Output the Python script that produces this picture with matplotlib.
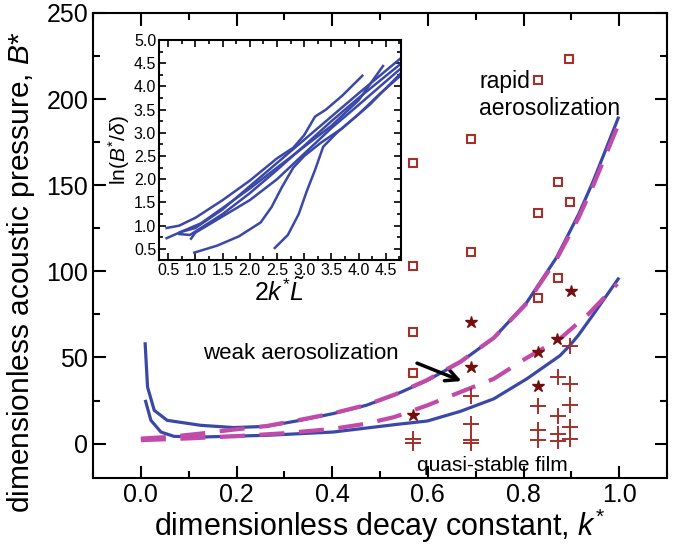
import numpy as np
import matplotlib
matplotlib.use("Agg")
import matplotlib.pyplot as plt
from matplotlib.ticker import MultipleLocator

plt.rcParams['font.family'] = ['Liberation Sans', 'DejaVu Sans']
plt.rcParams['mathtext.fontset'] = 'custom'
plt.rcParams['mathtext.rm'] = 'Liberation Sans'
plt.rcParams['mathtext.it'] = 'Liberation Sans:italic'

# main curves (k*, B*)
k_up = [0.009, 0.014, 0.028, 0.055, 0.125, 0.194, 0.263, 0.333, 0.402, 0.471, 0.533,
        0.599, 0.668, 0.738, 0.807, 0.869, 0.915, 0.946, 0.998]
B_up = [57.9, 32.8, 19.3, 13.5, 10.6, 9.3, 10.0, 13.5, 17.4, 22.2, 28.5,
        36.7, 47.3, 61.4, 82.0, 108.0, 133.0, 152.5, 189.0]
k_lo = [0.010, 0.021, 0.042, 0.069, 0.125, 0.263, 0.402, 0.537, 0.599, 0.668,
        0.738, 0.807, 0.876, 0.897, 0.915, 0.946, 0.998]
B_lo = [24.5, 13.5, 6.7, 4.2, 3.8, 4.8, 6.7, 11.2, 13.1, 18.7,
        26.0, 37.6, 51.0, 57.0, 63.0, 75.0, 95.6]
k_up_d = [0.0, 0.055, 0.125, 0.194, 0.263, 0.333, 0.402, 0.471, 0.533, 0.599, 0.668,
          0.738, 0.807, 0.869, 0.915, 0.946, 0.995]
B_up_d = [2.9, 3.8, 5.8, 8.1, 10.2, 13.8, 17.6, 22.4, 28.7, 37.0, 47.5,
          61.4, 81.5, 107.0, 131.0, 150.0, 183.0]
k_lo_d = [0.0, 0.1, 0.2, 0.3, 0.4, 0.47, 0.53, 0.599, 0.668, 0.738, 0.807, 0.876, 0.936, 0.996]
B_lo_d = [2.0, 3.0, 4.3, 6.0, 8.5, 11.5, 15.4, 22.2, 29.9, 37.6, 49.8, 60.8, 75.3, 92.7]

# experimental points
sq_k = [0.896, 0.830, 0.691, 0.570, 0.872, 0.897, 0.830, 0.691, 0.570, 0.570, 0.570, 0.872, 0.830]
sq_B = [223, 211, 176.6, 162.8, 151.9, 140.5, 133.6, 111.0, 103.3, 65.0, 40.9, 96.1, 84.3]
st_k = [0.899, 0.691, 0.691, 0.871, 0.830, 0.830, 0.570]
st_B = [88.4, 70.4, 44.6, 60.6, 53.1, 33.4, 16.4]
pl_k = [0.570, 0.570, 0.691, 0.691, 0.691, 0.691, 0.830, 0.830, 0.830,
        0.872, 0.872, 0.872, 0.872, 0.897, 0.897, 0.897, 0.897, 0.897]
pl_B = [2.9, 0.4, 27.6, 11.6, 2.3, 0.4, 21.6, 7.7, 2.0,
        38.6, 16.0, 5.8, 1.5, 56.5, 34.7, 22.2, 9.6, 2.9]

# inset curves (2k*L, ln(B*/delta))
inset_curves = [
    ([0.47, 0.7, 1.0, 1.5, 2.0, 2.5, 2.8, 3.0, 3.2, 3.4, 3.7, 4.07],
     [0.95, 1.0, 1.17, 1.55, 1.97, 2.45, 2.68, 2.95, 3.35, 3.5, 3.8, 4.23]),
    ([0.47, 0.8, 1.1, 1.5, 2.0, 2.5, 3.0, 3.5, 4.0, 4.45],
     [0.73, 0.9, 1.05, 1.38, 1.8, 2.25, 2.7, 3.15, 3.7, 4.44]),
    ([0.72, 1.0, 1.5, 2.0, 2.5, 3.0, 3.5, 4.0, 4.79],
     [0.86, 0.95, 1.35, 1.85, 2.35, 2.85, 3.35, 3.85, 4.62]),
    ([0.7, 0.9, 1.1, 1.5, 2.0, 2.5, 3.0, 3.5, 4.0, 4.79],
     [0.82, 0.8, 0.95, 1.25, 1.7, 2.2, 2.72, 3.25, 3.75, 4.5]),
    ([0.92, 1.0, 1.5, 2.0, 2.5, 3.0, 3.5, 4.0, 4.79],
     [0.72, 0.85, 1.2, 1.55, 2.0, 2.55, 3.1, 3.6, 4.4]),
    ([0.98, 1.4, 1.8, 2.2, 2.4, 2.6, 2.8, 3.0, 3.3, 3.7, 4.2, 4.79],
     [0.42, 0.57, 0.77, 1.07, 1.4, 1.85, 2.25, 2.5, 2.78, 3.1, 3.6, 4.3]),
    ([2.46, 2.7, 2.9, 3.05, 3.2, 3.35, 3.6, 4.0, 4.4, 4.79],
     [0.52, 0.8, 1.25, 1.75, 2.2, 2.7, 3.0, 3.4, 3.85, 4.25]),
]

blue = '#3a48a8'
mag = '#c24aa8'
red = '#a3302a'
dark = '#740d0d'

fig = plt.figure(figsize=(6.82, 5.48), dpi=100)
ax = fig.add_axes([0.1364, 0.1277, 0.8416, 0.8486])

ax.plot(k_up, B_up, color=blue, lw=2.3, zorder=3)
ax.plot(k_lo, B_lo, color=blue, lw=2.3, zorder=3)
ax.plot(k_up_d, B_up_d, color=mag, lw=3, dashes=(6, 3.5), zorder=4)
ax.plot(k_lo_d, B_lo_d, color=mag, lw=3, dashes=(6, 3.5), zorder=4)

ax.plot(sq_k, sq_B, 's', ms=5.5, mfc='white', mec=red, mew=1.5, ls='none', zorder=5)
ax.plot(st_k, st_B, '*', ms=9, color=dark, ls='none', zorder=5)
ax.plot(pl_k, pl_B, '+', ms=11, mew=1.4, color=red, ls='none', zorder=5)

ax.annotate('', xy=(0.676, 35.7), xytext=(0.572, 47.3),
            arrowprops=dict(arrowstyle='->', color='black', lw=2.5, mutation_scale=22))
ax.text(0.131, 52.3, 'weak aerosolization', fontsize=16, va='center', ha='left')
ax.text(0.707, 217, 'rapid\naerosolization', fontsize=16.5, va='top', ha='left', linespacing=1.25)
ax.text(0.578, -12.5, 'quasi-stable film', fontsize=15, va='center', ha='left')

ax.set_xlim(-0.1, 1.1)
ax.set_ylim(-20, 250)
ax.xaxis.set_major_locator(MultipleLocator(0.2))
ax.xaxis.set_minor_locator(MultipleLocator(0.1))
ax.yaxis.set_major_locator(MultipleLocator(50))
ax.yaxis.set_minor_locator(MultipleLocator(25))
ax.xaxis.set_major_formatter(matplotlib.ticker.FormatStrFormatter('%.1f'))
ax.tick_params(which='both', direction='in', top=True, right=True, width=1.5, labelsize=18)
ax.tick_params(which='major', length=9)
ax.tick_params(which='minor', length=5)
for s in ax.spines.values():
    s.set_linewidth(1.5)
ax.set_xlabel('dimensionless decay constant, $k^{*}$', fontsize=22, labelpad=0)
ax.set_ylabel('dimensionless acoustic pressure, $B$*', fontsize=21.5)
ax.yaxis.set_label_coords(-0.097, 0.443)

# inset
ins = fig.add_axes([0.2331, 0.5255, 0.3548, 0.4015])
for xs, ys in inset_curves:
    ins.plot(xs, ys, color=blue, lw=1.8)
ins.set_xlim(0.33, 4.78)
ins.set_ylim(0.26, 5.0)
ins.xaxis.set_major_locator(MultipleLocator(0.5))
ins.xaxis.set_minor_locator(MultipleLocator(0.25))
ins.yaxis.set_major_locator(MultipleLocator(0.5))
ins.yaxis.set_minor_locator(MultipleLocator(0.25))
ins.xaxis.set_major_formatter(matplotlib.ticker.FormatStrFormatter('%.1f'))
ins.yaxis.set_major_formatter(matplotlib.ticker.FormatStrFormatter('%.1f'))
ins.tick_params(which='both', direction='in', top=True, right=True, width=1.2, labelsize=11.5, pad=2)
ins.tick_params(which='major', length=5)
ins.tick_params(which='minor', length=3)
for s in ins.spines.values():
    s.set_linewidth(1.5)
ins.set_xlabel(r'$2k^{*}\tilde{L}$', fontsize=18, labelpad=0)
ins.set_ylabel(r'ln($B^{*}/\delta$)', fontsize=15, labelpad=1)

fig.savefig('out.png', dpi=100)
